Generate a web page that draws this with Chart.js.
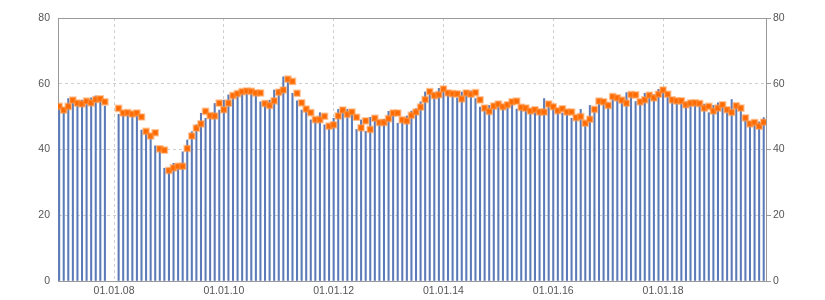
<!DOCTYPE html>
<html>
<head>
<meta charset="utf-8">
<script src="https://cdn.jsdelivr.net/npm/chart.js@4/dist/chart.umd.min.js"></script>
<style>
    html, body { margin: 0; padding: 0; background: #fff; }
    #wrap { width: 825px; height: 300px; }
</style>
</head>
<body>
<div id="wrap"><canvas id="c" width="825" height="300"></canvas></div>
<script>
// month index 0 = Jan 2007, 154 = Nov 2019 (Dec 07 / Jan 08 missing)
const barValues = [
    53, 52.5, 55.5, 55, 54.5, 55, 55, 55.7, 56.3, 55.8, 53.2, null,
    null, 50.7, 51.2, 51.2, 50.2, 50.2, 45.9, 45.9, 44.4, 41.1, 41, 34.3,
    34.3, 35.8, 35, 39.3, 42.9, 45.4, 47.5, 51, 49.5, 51, 54, 52,
    55, 56.6, 57, 57.6, 58.1, 58.1, 57.6, 57.1, 54.5, 54.5, 55, 58.1,
    58.3, 62.1, 61, 57.1, 54.8, 52, 51.5, 49, 49, 51.2, 47.5, 47,
    49.5, 52.2, 52.5, 52.2, 52, 46.1, 49, 45.5, 49.8, 49.2, 48.7, 49.2,
    51.6, 51.2, 48, 49.2, 50.2, 51.7, 52.4, 54.5, 57.5, 58.1, 57.3, 58.6,
    57.7, 57.3, 57.5, 55.7, 57.5, 56.8, 57.8, 55.5, 52.9, 52, 53.4, 53.9,
    53, 53.6, 53, 54.6, 52.3, 52, 52.2, 51.2, 51.2, 52.2, 55.5, 53,
    53.2, 51.2, 51.1, 51.2, 49.5, 50.2, 52.2, 47.1, 53.4, 51.7, 55.4, 55.2,
    54.2, 56.1, 55.2, 54.4, 57.3, 56.5, 54.6, 55.2, 57.1, 56.3, 56.7, 58.3,
    57.5, 56.3, 54.4, 54.2, 54.7, 54.5, 54.9, 53.8, 53.2, 53.8, 51.2, 53.4,
    54.2, 53.2, 51.2, 55.2, 53.7, 52.2, 49.6, 48.4, 48, 48.4, 49.7
];

const pointValues = [
    53.1, 52.0, 53.1, 55.0, 54.1, 53.9, 54.7, 54.2, 55.2, 55.4, 54.5, null,
    null, 52.5, 51.1, 51.2, 50.8, 51.1, 49.9, 45.5, 44.1, 45.1, 40.2, 39.8,
    33.6, 34.4, 34.9, 34.9, 40.3, 44.1, 46.5, 47.8, 51.6, 50.3, 50.2, 54.1,
    52.1, 54.1, 56.4, 57.0, 57.6, 57.8, 57.7, 57.2, 57.2, 54.0, 53.4, 54.8,
    57.4, 58.1, 61.4, 60.7, 57.1, 54.2, 52.3, 51.2, 49.1, 49.1, 50.1, 47.1,
    47.5, 50.2, 52.0, 50.7, 51.4, 49.8, 46.6, 48.7, 46.1, 49.5, 48.2, 48.2,
    49.4, 51.1, 51.1, 49.0, 48.7, 50.4, 51.4, 52.9, 55.2, 57.6, 56.4, 56.7,
    58.4, 57.2, 57.0, 56.9, 55.4, 57.2, 56.8, 57.3, 55.1, 52.6, 51.6, 53.2,
    53.8, 53.0, 53.6, 54.5, 54.7, 52.8, 52.6, 51.7, 52.1, 51.4, 51.4, 53.8,
    53.0, 51.8, 52.4, 51.4, 51.4, 49.7, 50.0, 48.0, 49.2, 52.2, 54.7, 54.5,
    53.4, 56.1, 55.7, 55.0, 54.1, 56.7, 56.6, 54.5, 55.1, 56.5, 55.7, 56.8,
    58.1, 56.8, 55.1, 54.8, 54.8, 53.6, 54.1, 54.2, 54.0, 52.6, 53.1, 51.7,
    52.6, 53.6, 52.1, 51.3, 53.3, 52.6, 49.6, 47.8, 48.2, 47.1, 48.3
];

const xTickPositions = [12, 36, 60, 84, 108, 132];
const xTickLabels = ['01.01.08', '01.01.10', '01.01.12', '01.01.14', '01.01.16', '01.01.18'];
const yTicks = [0, 20, 40, 60, 80];

const months = barValues.map((v, i) => i);

const tickFont = { family: 'Liberation Sans', size: 10.5 };
const textColour = '#555';
const axisColour = '#999';
const gridColour = '#cfcfcf';

// top edge of the plot area
const frame = {
    id: 'frame',
    afterDraw(chart) {
        const a = chart.chartArea;
        const ctx = chart.ctx;
        ctx.save();
        ctx.strokeStyle = axisColour;
        ctx.lineWidth = 1;
        ctx.beginPath();
        ctx.moveTo(Math.round(a.left), Math.round(a.top) + 0.5);
        ctx.lineTo(Math.round(a.right), Math.round(a.top) + 0.5);
        ctx.stroke();
        ctx.restore();
    }
};

new Chart(document.getElementById('c').getContext('2d'), {
    type: 'bar',
    data: {
        datasets: [
            {
                type: 'line',
                data: months.map(i => ({ x: i, y: pointValues[i] })),
                showLine: false,
                pointStyle: 'rect',
                pointRadius: 4,
                pointBackgroundColor: '#ff6a00',
                pointBorderColor: 'rgba(255,150,70,0.5)',
                pointBorderWidth: 2,
                order: 0
            },
            {
                type: 'bar',
                data: months.map(i => ({ x: i, y: barValues[i] })),
                backgroundColor: '#5b7bb8',
                barThickness: 1.4,
                order: 1
            }
        ]
    },
    options: {
        responsive: false,
        animation: false,
        layout: { padding: { top: 18, left: 0, right: 0, bottom: 0 } },
        plugins: { legend: { display: false }, tooltip: { enabled: false } },
        scales: {
            x: {
                type: 'linear',
                min: -0.25,
                max: 154.5,
                offset: false,
                afterBuildTicks: scale => {
                    scale.ticks = xTickPositions.map(v => ({ value: v }));
                },
                afterFit: scale => { scale.height = 19; },
                ticks: {
                    autoSkip: false,
                    maxRotation: 0,
                    padding: 4,
                    color: textColour,
                    font: tickFont,
                    callback: value => xTickLabels[xTickPositions.indexOf(value)]
                },
                grid: { color: gridColour, drawTicks: false, offset: false },
                border: { color: axisColour, dash: [3, 3] }
            },
            y: {
                position: 'left',
                min: 0,
                max: 80,
                afterBuildTicks: scale => {
                    scale.ticks = yTicks.map(v => ({ value: v }));
                },
                afterFit: scale => { scale.width = 58; },
                ticks: { padding: 8, color: textColour, font: tickFont },
                grid: { color: gridColour, drawTicks: false },
                border: { color: axisColour, dash: [3, 3] }
            },
            y2: {
                position: 'right',
                min: 0,
                max: 80,
                afterBuildTicks: scale => {
                    scale.ticks = yTicks.map(v => ({ value: v }));
                },
                afterFit: scale => { scale.width = 59; },
                ticks: { padding: 2, color: textColour, font: tickFont },
                grid: { drawOnChartArea: false, drawTicks: true, tickLength: 5, color: axisColour },
                border: { color: axisColour }
            }
        }
    },
    plugins: [frame]
});
</script>
</body>
</html>
